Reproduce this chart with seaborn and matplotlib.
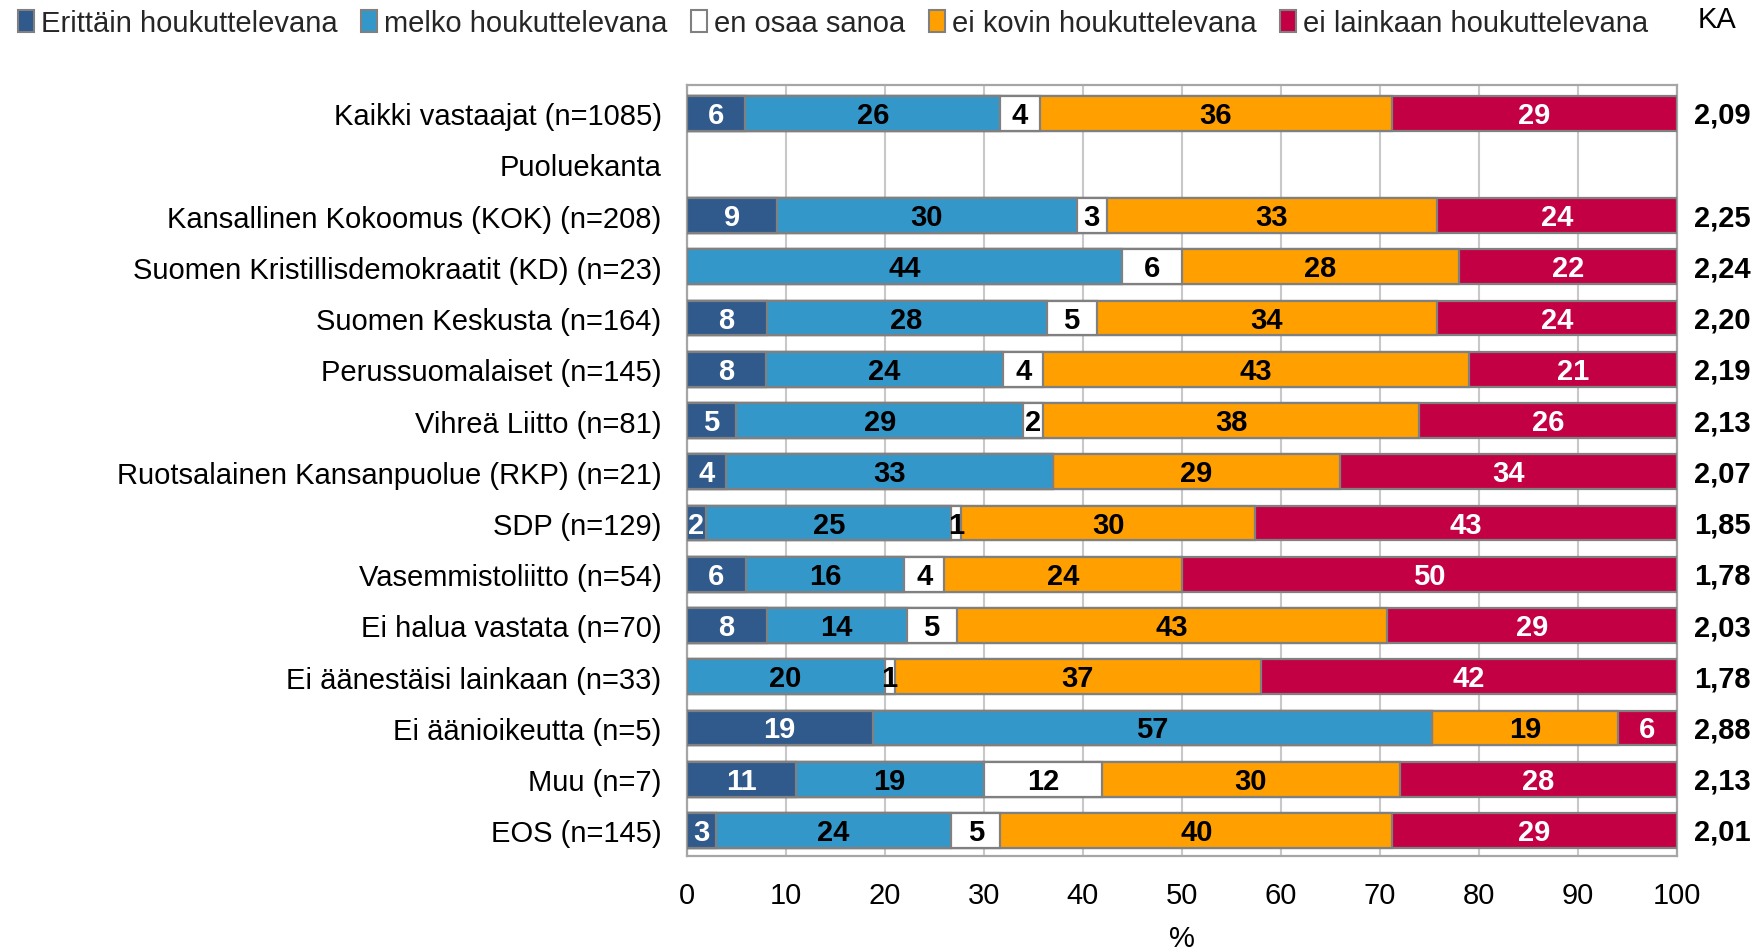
import numpy as np
import pandas as pd
import matplotlib
matplotlib.use("Agg")
import matplotlib.pyplot as plt
from matplotlib.patches import Patch
import seaborn as sns

# ---------------------------
# Data
# ---------------------------
categories = [
    "Kaikki vastaajat (n=1085)",
    "Puoluekanta",
    "Kansallinen Kokoomus (KOK) (n=208)",
    "Suomen Kristillisdemokraatit (KD) (n=23)",
    "Suomen Keskusta (n=164)",
    "Perussuomalaiset (n=145)",
    "Vihreä Liitto (n=81)",
    "Ruotsalainen Kansanpuolue (RKP) (n=21)",
    "SDP (n=129)",
    "Vasemmistoliitto (n=54)",
    "Ei halua vastata (n=70)",
    "Ei äänestäisi lainkaan (n=33)",
    "Ei äänioikeutta (n=5)",
    "Muu (n=7)",
    "EOS (n=145)",
]
series_names = [
    "Erittäin houkuttelevana",
    "melko houkuttelevana",
    "en osaa sanoa",
    "ei kovin houkuttelevana",
    "ei lainkaan houkuttelevana",
]
erittain = [6, np.nan, 9, 0, 8, 8, 5, 4, 2, 6, 8, 0, 19, 11, 3]
melko = [26, np.nan, 30, 44, 28, 24, 29, 33, 25, 16, 14, 20, 57, 19, 24]
eos = [4, np.nan, 3, 6, 5, 4, 2, 0, 1, 4, 5, 1, 0, 12, 5]
ei_kovin = [36, np.nan, 33, 28, 34, 43, 38, 29, 30, 24, 43, 37, 19, 30, 40]
ei_lainkaan = [29, np.nan, 24, 22, 24, 21, 26, 34, 43, 50, 29, 42, 6, 28, 29]
ka = ["2,09", "", "2,25", "2,24", "2,20", "2,19", "2,13", "2,07", "1,85",
      "1,78", "2,03", "1,78", "2,88", "2,13", "2,01"]

colors = ["#30598C", "#3397CA", "#FFFFFF", "#FFA000", "#C40044"]
label_colors = ["white", "black", "black", "black", "white"]

# ---------------------------
# Prepare (100 % stacked)
# ---------------------------
vals = pd.DataFrame(np.array([erittain, melko, eos, ei_kovin, ei_lainkaan]).T,
                    index=categories, columns=series_names)
shares = vals.div(vals.sum(axis=1), axis=0) * 100
cum = shares.cumsum(axis=1)

sns.set_theme(style="white")
plt.rcParams["font.family"] = ["Liberation Sans", "DejaVu Sans"]
FS = 21

fig = plt.figure(figsize=(17.65, 9.53), dpi=100)
ax = fig.add_axes([0.389, 0.1007, 0.561, 0.8091])

# draw from the right-most series backwards so each layer covers the next
for i in range(len(series_names) - 1, -1, -1):
    sns.barplot(x=cum.iloc[:, i].values, y=categories, order=categories,
                orient="h", color=colors[i], saturation=1, width=0.68,
                edgecolor="#808080", linewidth=1.6, errorbar=None,
                ax=ax, zorder=3)

# segment labels
for r, cat in enumerate(categories):
    for i, name in enumerate(series_names):
        v = vals.loc[cat, name]
        if np.isnan(v) or v == 0:
            continue
        center = cum.loc[cat, name] - shares.loc[cat, name] / 2
        ax.text(center, r + 0.03, f"{int(v)}", ha="center", va="center",
                fontsize=FS, fontweight="bold", color=label_colors[i], zorder=5)
    ax.text(104.6, r + 0.03, ka[r], ha="center", va="center", fontsize=FS,
            fontweight="bold", color="black", clip_on=False)

ax.set_xlim(0, 100)
ax.set_ylim(14.5, -0.55)
ax.set_xticks(range(0, 101, 10))
ax.xaxis.grid(True, color="#C8C8C8", linewidth=1.5, zorder=0)
ax.yaxis.grid(False)
ax.set_axisbelow(True)
ax.tick_params(axis="x", labelsize=FS, length=0, pad=18, colors="black")
ax.tick_params(axis="y", labelsize=FS, length=0, pad=18, colors="black")
ax.set_xlabel("%", fontsize=FS, labelpad=11, color="black")
ax.set_ylabel("")
for s in ax.spines.values():
    s.set_color("#A6A6A6")
    s.set_linewidth(1.6)

# legend
handles = [Patch(facecolor=c, edgecolor="#808080", linewidth=1.5) for c in colors]
fig.legend(handles, series_names, loc="upper left", bbox_to_anchor=(0.0, 1.008),
           ncol=5, frameon=False, fontsize=FS, handlelength=0.55, handleheight=0.8,
           handletextpad=0.25, columnspacing=0.8, borderaxespad=0.2)
fig.text(0.973, 0.979, "KA", fontsize=FS, ha="center", va="center", color="black")

fig.savefig("out.png", dpi=100)
